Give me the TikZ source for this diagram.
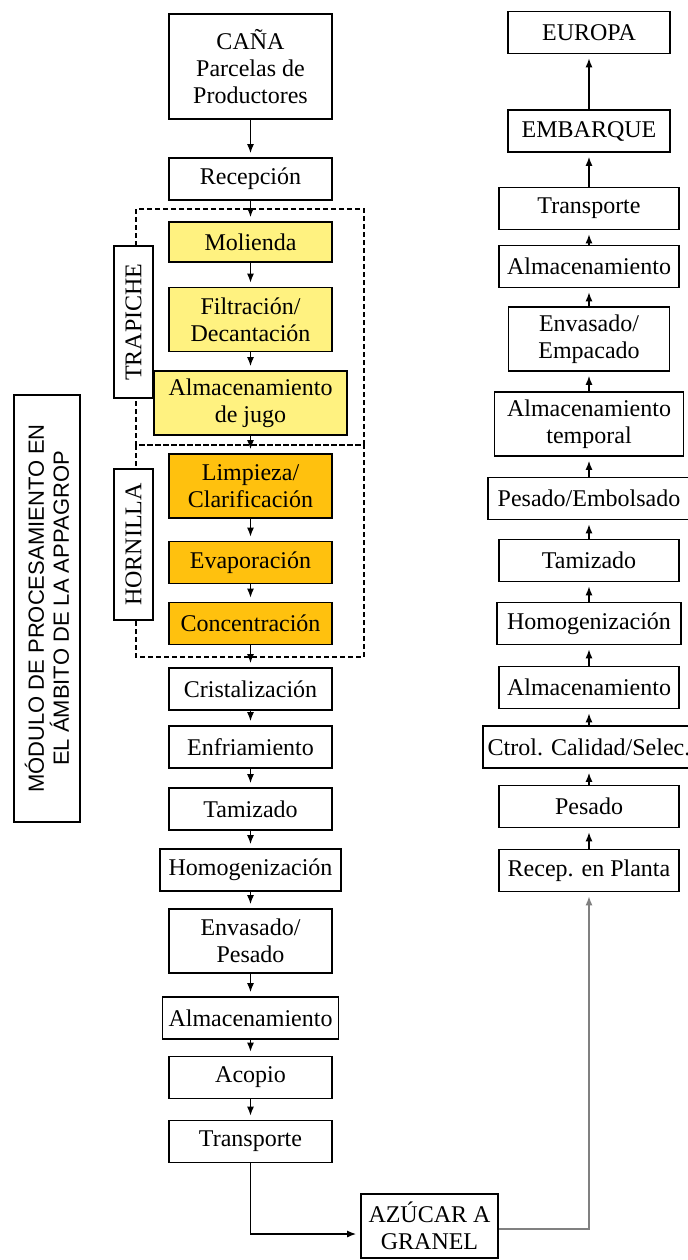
\documentclass[tikz,border=0pt]{standalone}
\usepackage{fontspec}
\setmainfont{Liberation Serif}
\newfontfamily\modsans{Liberation Sans}
\usetikzlibrary{arrows.meta}

\definecolor{jugo}{RGB}{255,242,128}
\definecolor{horno}{RGB}{255,193,14}

\tikzset{
  paso/.style={draw, line width=0.8pt, fill=white, align=center, inner sep=1pt,
    minimum width=81.5pt, minimum height=21pt, font=\fontsize{12}{13.5}\selectfont},
  doble/.style={minimum height=32pt},
  flecha/.style={line width=0.75pt, -{Latex[length=4.5pt,width=3.5pt]}, shorten >=2pt},
  zona/.style={line width=0.7pt, dash pattern=on 2.5pt off 1.5pt},
  etiqueta/.style={draw, line width=0.8pt, fill=white, rotate=90, minimum height=19.5pt,
    inner sep=1pt, font=\fontsize{12}{14}\selectfont}
}

\begin{document}
\begin{tikzpicture}[x=0.5pt,y=-0.5pt]
\useasboundingbox (0,0) rectangle (688,1260);

% zonas trapiche / hornilla
\draw[zona] (136,209) rectangle (364,445);
\draw[zona] (136,445) rectangle (364,657);

\begin{scope}[every node/.style={etiqueta}]
    \node[minimum width=76pt] (trapiche) at (133.5,322) {TRAPICHE};
    \node[minimum width=75.5pt] (hornilla) at (133.5,544.5) {HORNILLA};
\end{scope}

\node[draw, line width=0.8pt, rotate=90, minimum width=213.5pt, minimum height=33pt,
  align=center, inner sep=1pt, font=\modsans\fontsize{11}{12.5}\selectfont]
  (modulo) at (47,608.5) {MÓDULO DE PROCESAMIENTO EN\\EL ÁMBITO DE LA APPAGROP};

% columna izquierda
\begin{scope}[every node/.style={paso}]
    \node[minimum height=52.5pt] (cana) at (250.5,66.5) {CAÑA\\Parcelas de\\Productores};
    \node (recep) at (250.5,179) {Recepción};

    \node[fill=jugo, minimum height=20pt] (mol) at (250.5,242) {Molienda};
    \node[fill=jugo, doble] (filt) at (250.5,319.5) {Filtración/\\Decantación};
    \node[fill=jugo, doble, minimum width=96.5pt] (almj) at (250.5,403) {Almacenamiento\\de jugo};

    \node[fill=horno, doble] (limp) at (250.5,486) {Limpieza/\\Clarificación};
    \node[fill=horno] (evap) at (250.5,562.5) {Evaporación};
    \node[fill=horno] (conc) at (250.5,623.5) {Concentración};

    \node (crist) at (250.5,689) {Cristalización};
    \node (enfr) at (250.5,747) {Enfriamiento};
    \node (tamiz) at (250.5,809) {Tamizado};
    \node[minimum width=90.5pt] (homo) at (250.5,870) {Homogenización};
    \node[doble] (envp) at (250.5,941) {Envasado/\\Pesado};
    \node[minimum width=88pt] (alm) at (250.5,1018) {Almacenamiento};
    \node (acop) at (250.5,1077.5) {Acopio};
    \node (trans) at (250.5,1141.5) {Transporte};

    \node[doble, minimum width=68.5pt] (granel) at (429.5,1226) {AZÚCAR A\\GRANEL};
\end{scope}

% columna derecha
\begin{scope}[every node/.style={paso, minimum width=90pt}]
    \node[minimum width=81pt] (europa) at (589,32.5) {EUROPA};
    \node[minimum width=81pt] (embarque) at (589,131) {EMBARQUE};
    \node (rtrans) at (589,208.5) {Transporte};
    \node (ralm) at (589,266.5) {Almacenamiento};
    \node[doble, minimum width=80.5pt] (renv) at (589,339) {Envasado/\\Empacado};
    \node[doble, minimum width=94.5pt] (ralmt) at (589,424) {Almacenamiento\\temporal};
    \node[minimum width=101pt] (rpes) at (589,498.5) {Pesado/Embolsado};
    \node (rtamiz) at (589,560.5) {Tamizado};
    \node[minimum width=92pt] (rhomo) at (589,623.5) {Homogenización};
    \node (ralmb) at (589,687.5) {Almacenamiento};
    \node[minimum width=106pt] (rctrl) at (589,747) {Ctrol. Calidad/Selec.};
    \node (rpesado) at (589,806.5) {Pesado};
    \node (rplanta) at (589,870.5) {Recep. en Planta};
\end{scope}

\begin{scope}[style={flecha}]
    \path (cana) edge (recep);
    \path (recep) edge (mol);
    \path (mol) edge (filt);
    \path (filt) edge (almj);
    \path (almj) edge (limp);
    \path (limp) edge (evap);
    \path (evap) edge (conc);
    \path (conc) edge (crist);
    \path (crist) edge (enfr);
    \path (enfr) edge (tamiz);
    \path (tamiz) edge (homo);
    \path (homo) edge (envp);
    \path (envp) edge (alm);
    \path (alm) edge (acop);
    \path (acop) edge (trans);

    \draw (trans.south) |- ([yshift=-4pt]granel.west);
    \draw[gray] ([yshift=-1.5pt]granel.east) -| (rplanta.south);

    \path (rplanta) edge (rpesado);
    \path (rpesado) edge (rctrl);
    \path (rctrl) edge (ralmb);
    \path (ralmb) edge (rhomo);
    \path (rhomo) edge (rtamiz);
    \path (rtamiz) edge (rpes);
    \path (rpes) edge (ralmt);
    \path (ralmt) edge (renv);
    \path (renv) edge (ralm);
    \path (ralm) edge (rtrans);
    \path (rtrans) edge (embarque);
    \path (embarque) edge (europa);
\end{scope}

\end{tikzpicture}
\end{document}
